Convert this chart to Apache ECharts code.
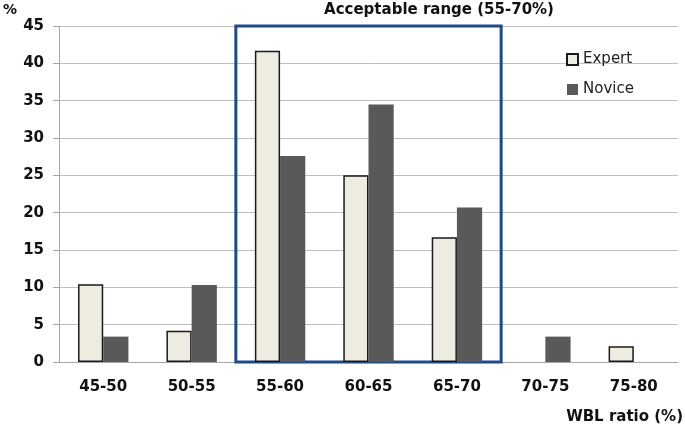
<!DOCTYPE html>
<html><head><meta charset="utf-8">
<script src="https://cdn.jsdelivr.net/npm/echarts@6/dist/echarts.min.js"></script>
<style>html,body{margin:0;padding:0;background:#fff}#c{width:685px;height:426px}</style>
</head><body><div id="c"></div>
<script>
const categories = ['45-50','50-55','55-60','60-65','65-70','70-75','75-80'];
const expert = [10.4, 4.2, 41.7, 25.0, 16.7, 0, 2.1];
const novice = [3.4, 10.3, 27.6, 34.5, 20.7, 3.4, 0];
const yTicks = {min: 0, max: 45, interval: 5};
const rangeBox = {from: 2, to: 5}; // category index span 55-60 .. 65-70

const font = '"DejaVu Sans", "Noto Sans", sans-serif';
const noZeroBorder = arr => arr.map(v => v === 0 ? {value: 0, itemStyle: {borderWidth: 0}} : v);
const chart = echarts.init(document.getElementById('c'));
chart.setOption({
  animation: false,
  textStyle: {fontFamily: font},
  title: [
    {text: 'Acceptable range (55-70%)', left: 434, top: -2, textAlign: 'center',
     textStyle: {fontSize: 15, fontWeight: 'bold', color: '#111', fontFamily: font}},
    {text: '%', left: -2, top: -2, textStyle: {fontSize: 14, fontWeight: 'bold', color: '#111', fontFamily: font}},
    {text: 'WBL ratio (%)', right: -3, top: 405, textStyle: {fontSize: 15, fontWeight: 'bold', color: '#111', fontFamily: font}}
  ],
  legend: {
    data: ['Expert', 'Novice'], orient: 'vertical', left: 561, top: 47, icon: 'rect',
    itemWidth: 11, itemHeight: 11, itemGap: 15,
    textStyle: {fontSize: 15, color: '#222', fontFamily: font}
  },
  grid: {left: 59, right: 7, top: 26, bottom: 64},
  xAxis: [
    {type: 'category', data: categories,
     axisLine: {lineStyle: {color: '#a6a6a6'}},
     axisTick: {length: 7, lineStyle: {color: '#a6a6a6'}},
     axisLabel: {fontSize: 15, fontWeight: 'bold', color: '#111', margin: 18}},
    {type: 'value', min: 0, max: categories.length, show: false}
  ],
  yAxis: {
    type: 'value', min: yTicks.min, max: yTicks.max, interval: yTicks.interval,
    axisLine: {show: true, lineStyle: {color: '#a6a6a6'}},
    axisTick: {show: true, length: 6, lineStyle: {color: '#a6a6a6'}},
    splitLine: {lineStyle: {color: '#bfbfbf'}},
    axisLabel: {fontSize: 15, fontWeight: 'bold', color: '#111', margin: 15}
  },
  series: [
    {name: 'Expert', type: 'bar', data: noZeroBorder(expert), barGap: '0%', barCategoryGap: '43%',
     itemStyle: {color: '#eeebe0', borderColor: '#1a1a1a', borderWidth: 1.5}},
    {name: 'Novice', type: 'bar', data: novice,
     itemStyle: {color: '#595959'}},
    {name: 'box', type: 'scatter', xAxisIndex: 1, data: [], silent: true,
     markArea: {silent: true,
       itemStyle: {color: 'rgba(0,0,0,0)', borderColor: '#1f4a85', borderWidth: 3},
       data: [[{xAxis: rangeBox.from, yAxis: yTicks.max}, {xAxis: rangeBox.to, yAxis: yTicks.min}]]}}
  ]
});
</script></body></html>
